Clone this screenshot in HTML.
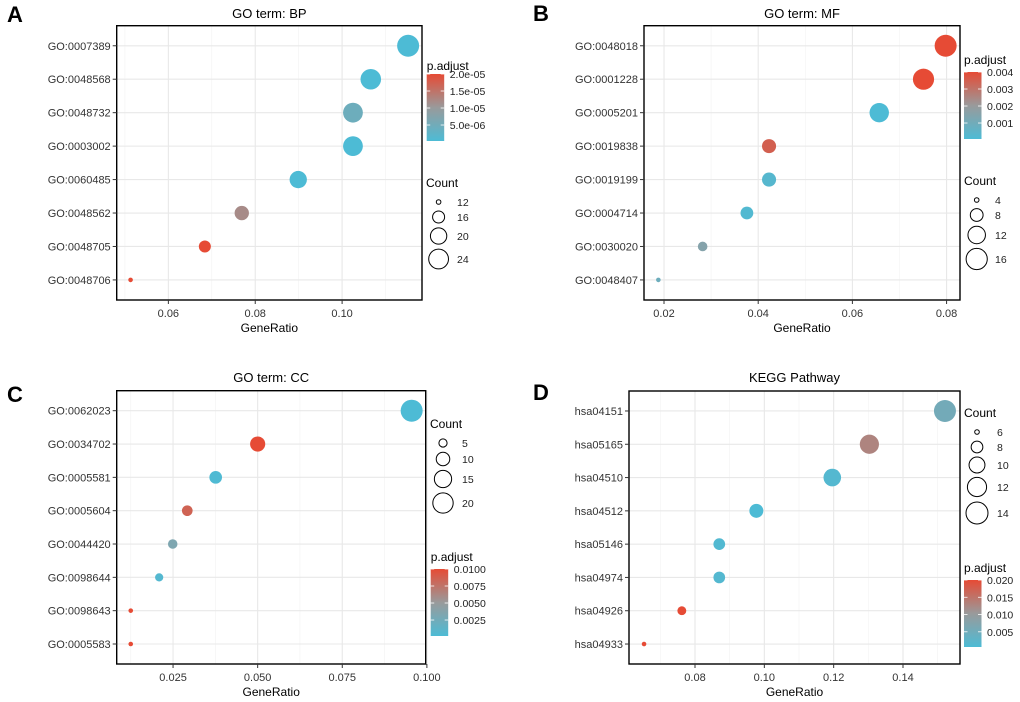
<!DOCTYPE html>
<html><head><meta charset="utf-8"><style>
html,body{margin:0;padding:0;background:#fff;}
svg{display:block;font-family:"Liberation Sans",Arial,sans-serif;}
</style></head><body>
<svg id="chart" width="1020" height="702" viewBox="0 0 1020 702" xmlns="http://www.w3.org/2000/svg">
<defs>
<linearGradient id="pgrad" x1="0" y1="0" x2="0" y2="1">
<stop offset="0" stop-color="#E64B35"/><stop offset="0.5" stop-color="#999a9b"/><stop offset="1" stop-color="#4DBBD5"/>
</linearGradient>
</defs>
</svg>
<script>
// ---- Panel A: GO BP ----
const aTerms = ["GO:0007389","GO:0048568","GO:0048732","GO:0003002","GO:0060485","GO:0048562","GO:0048705","GO:0048706"];
const aRatio = [0.1152,0.1066,0.1025,0.1025,0.0899,0.0769,0.0684,0.0513];
const aCount = [27,25,24,24,21,18,16,12];
const aP = [3e-7,3e-7,4.5e-6,3e-7,3e-7,1.2e-5,2e-5,2e-5];
const aXTicks = [0.06,0.08,0.10];
const aXLabels = ["0.06","0.08","0.10"];
const aPTicks = [2e-5,1.5e-5,1e-5,5e-6];
const aPLabels = ["2.0e-05","1.5e-05","1.0e-05","5.0e-06"];
const aCountBreaks = [12,16,20,24];
// ---- Panel B: GO MF ----
const bTerms = ["GO:0048018","GO:0001228","GO:0005201","GO:0019838","GO:0019199","GO:0004714","GO:0030020","GO:0048407"];
const bRatio = [0.0798,0.0751,0.0657,0.0423,0.0423,0.0376,0.0282,0.0188];
const bCount = [17,16,14,9,9,8,6,4];
const bP = [0.004,0.004,0.00006,0.0035,0.0003,0.0002,0.0015,0.0009];
const bXTicks = [0.02,0.04,0.06,0.08];
const bXLabels = ["0.02","0.04","0.06","0.08"];
const bPTicks = [0.004,0.003,0.002,0.001];
const bPLabels = ["0.004","0.003","0.002","0.001"];
const bCountBreaks = [4,8,12,16];
// ---- Panel C: GO CC ----
const cTerms = ["GO:0062023","GO:0034702","GO:0005581","GO:0005604","GO:0044420","GO:0098644","GO:0098643","GO:0005583"];
const cRatio = [0.0955,0.0500,0.0376,0.0292,0.0249,0.0209,0.0125,0.0125];
const cCount = [23,12,9,7,6,5,3,3];
const cP = [0.00015,0.0100,0.0003,0.0085,0.0033,0.0006,0.0100,0.0100];
const cXTicks = [0.025,0.050,0.075,0.100];
const cXLabels = ["0.025","0.050","0.075","0.100"];
const cPTicks = [0.01,0.0075,0.005,0.0025];
const cPLabels = ["0.0100","0.0075","0.0050","0.0025"];
const cCountBreaks = [5,10,15,20];
// ---- Panel D: KEGG ----
const dTerms = ["hsa04151","hsa05165","hsa04510","hsa04512","hsa05146","hsa04974","hsa04926","hsa04933"];
const dRatio = [0.1521,0.1303,0.1196,0.0977,0.0870,0.0870,0.0762,0.0653];
const dCount = [14,12,11,9,8,8,7,6];
const dP = [0.0055,0.013,0.0015,0.0006,0.0012,0.0015,0.020,0.020];
const dXTicks = [0.08,0.10,0.12,0.14];
const dXLabels = ["0.08","0.10","0.12","0.14"];
const dPTicks = [0.02,0.015,0.01,0.005];
const dPLabels = ["0.020","0.015","0.010","0.005"];
const dCountBreaks = [6,8,10,12,14];

const NS="http://www.w3.org/2000/svg";
const svg=document.getElementById('chart');
function mk(tag,attrs,parent,text){const e=document.createElementNS(NS,tag);for(const k in attrs)e.setAttribute(k,attrs[k]);if(text!==undefined)e.textContent=text;(parent||svg).appendChild(e);return e;}
const LO=[77,187,213],HI=[230,75,53],MID=[153,154,155];
function pcol(t){t=Math.max(0,Math.min(1,t));let a,b,u;if(t<0.5){a=LO;b=MID;u=t/0.5;}else{a=MID;b=HI;u=(t-0.5)/0.5;}
return 'rgb('+a.map((v,i)=>Math.round(v+(b[i]-v)*u)).join(',')+')';}

function panel(cfg,terms,ratio,count,pv,xt,xl,pt,pl,cb){
  const g=mk('g',{});
  
  
  const [L,T,R,B]=cfg.box;
  const xmin=Math.min(...ratio),xmax=Math.max(...ratio),pad=(xmax-xmin)*0.05;
  const x0=xmin-pad,x1=xmax+pad;
  const X=v=>L+(v-x0)/(x1-x0)*(R-L);
  const n=terms.length,step=(B-T)/(n-1+1.2);
  const Y=i=>T+step*(0.6+i);
  const cmin=Math.min(...count),cmax=Math.max(...count);
  const rmin=2.3,rmax=11;
  const rad=c=>Math.sqrt(rmin*rmin+(rmax*rmax-rmin*rmin)*(cmax===cmin?1:(c-cmin)/(cmax-cmin)));
  const pmin=Math.min(...pv),pmax=Math.max(...pv);
  const pt01=p=>(pmax===pmin?1:(p-pmin)/(pmax-pmin));
  // letter & title
  const lt=mk('text',{x:cfg.letter[0],y:cfg.letter[1],'font-size':22,'font-weight':'bold',fill:'#000'},g,cfg.letterText);
  
  
  const tt=mk('text',{x:(L+R)/2,y:cfg.titleY,'font-size':13,'text-anchor':'middle',fill:'#000'},g,cfg.title);
  
  
  // grid
  const step0=xt[1]-xt[0];
  for(let v=xt[0]-step0*1.5;v<=x1+1e-9;v+=step0){
    if(v>=x0&&v<=x1){const l=mk('line',{x1:X(v),x2:X(v),y1:T,y2:B,stroke:'#f2f2f2','stroke-width':0.6},g);
    }
  }
  xt.forEach(v=>{const l=mk('line',{x1:X(v),x2:X(v),y1:T,y2:B,stroke:'#e8e8e8','stroke-width':1.1},g);
    });
  terms.forEach((t,i)=>{const l=mk('line',{x1:L,x2:R,y1:Y(i),y2:Y(i),stroke:'#e8e8e8','stroke-width':1.1},g);
    });
  // points
  terms.forEach((t,i)=>{
    const c=mk('circle',{cx:X(ratio[i]),cy:Y(i),r:rad(count[i]),fill:pcol(pt01(pv[i]))},g);
    
    
  });
  // border
  const bx=mk('rect',{x:L,y:T,width:R-L,height:B-T,fill:'none',stroke:'#000','stroke-width':1.4},g);
  
  
  // y ticks
  terms.forEach((t,i)=>{
    mk('line',{x1:L-4,x2:L,y1:Y(i),y2:Y(i),stroke:'#333','stroke-width':1},g);
    const tx=mk('text',{x:L-6,y:Y(i)+4,'font-size':11,'text-anchor':'end',fill:'#333'},g,t);
    
    
  });
  // x ticks
  xt.forEach((v,i)=>{
    mk('line',{x1:X(v),x2:X(v),y1:B,y2:B+4,stroke:'#333','stroke-width':1},g);
    const tx=mk('text',{x:X(v),y:B+17,'font-size':11,'text-anchor':'middle',fill:'#333'},g,xl[i]);
    
    
  });
  const xa=mk('text',{x:(L+R)/2,y:B+32,'font-size':12,'text-anchor':'middle',fill:'#000'},g,'GeneRatio');
  
  
  // p.adjust legend
  const P=cfg.pleg;
  const pt1=mk('text',{x:P.x,y:P.titleY,'font-size':12,fill:'#000'},g,'p.adjust');
  
  
  const bar=mk('rect',{x:P.x,y:P.top,width:17.5,height:P.bot-P.top,fill:'url(#pgrad)'},g);
  
  
  const PY=p=>P.bot-(p-pmin)/(pmax-pmin)*(P.bot-P.top);
  pt.forEach((p,i)=>{
    const y=PY(p);
    mk('line',{x1:P.x,x2:P.x+3.5,y1:y,y2:y,stroke:'#fff','stroke-width':0.8},g);
    mk('line',{x1:P.x+14,x2:P.x+17.5,y1:y,y2:y,stroke:'#fff','stroke-width':0.8},g);
    const tx=mk('text',{x:P.x+23,y:y+4,'font-size':10.5,fill:'#222'},g,pl[i]);
    
    
  });
  // count legend
  const C=cfg.cleg;
  const ct=mk('text',{x:C.x,y:C.titleY,'font-size':12,fill:'#000'},g,'Count');
  
  
  cb.forEach((v,i)=>{
    const cy=C.ys[i];
    const c=mk('circle',{cx:C.cx,cy:cy,r:rad(v),fill:'#fff',stroke:'#000','stroke-width':1},g);
    
    
    const tx=mk('text',{x:C.lx,y:cy+4,'font-size':10.5,fill:'#222'},g,String(v));
    
    
  });
}

panel({id:'bp',letterText:'A',letter:[7,22],title:'GO term: BP',titleY:18,box:[116.7,25.7,422,300],
  pleg:{x:426.7,titleY:70,top:74,bot:141},cleg:{x:426,titleY:187,cx:438.6,lx:457,ys:[202,217,236,259]}},
  aTerms,aRatio,aCount,aP,aXTicks,aXLabels,aPTicks,aPLabels,aCountBreaks);
panel({id:'mf',letterText:'B',letter:[533,21],title:'GO term: MF',titleY:18,box:[644,25.7,960,300],
  pleg:{x:964,titleY:64,top:72,bot:139},cleg:{x:964,titleY:185,cx:976.7,lx:995,ys:[200,215,235,259]}},
  bTerms,bRatio,bCount,bP,bXTicks,bXLabels,bPTicks,bPLabels,bCountBreaks);
panel({id:'cc',letterText:'C',letter:[7,402],title:'GO term: CC',titleY:382,box:[116.7,390.7,425.7,664],
  pleg:{x:430.7,titleY:561,top:569,bot:636},cleg:{x:430,titleY:428,cx:443,lx:462,ys:[443,459,479,503]}},
  cTerms,cRatio,cCount,cP,cXTicks,cXLabels,cPTicks,cPLabels,cCountBreaks);
panel({id:'kegg',letterText:'D',letter:[533,400],title:'KEGG Pathway',titleY:382,box:[629,391,960,664],
  pleg:{x:964,titleY:572,top:580,bot:647},cleg:{x:964,titleY:417,cx:977,lx:997,ys:[432,447,465,487,513]}},
  dTerms,dRatio,dCount,dP,dXTicks,dXLabels,dPTicks,dPLabels,dCountBreaks);
</script>
</body></html>
